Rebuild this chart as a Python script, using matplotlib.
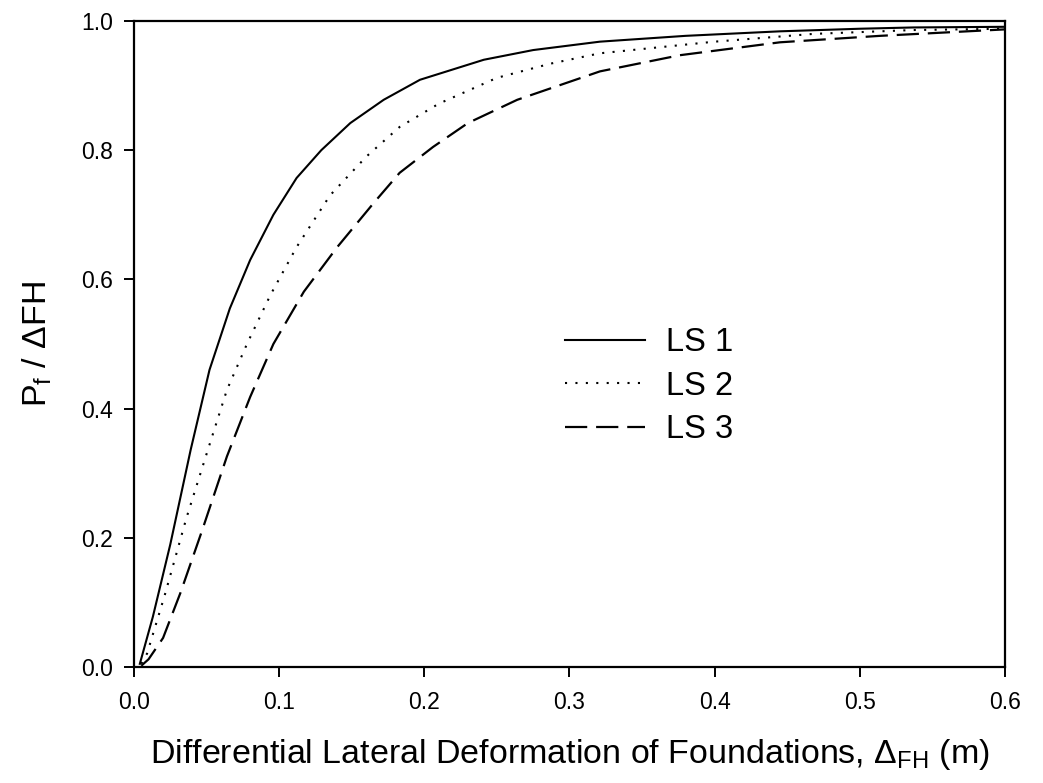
import matplotlib
matplotlib.use('Agg')
import matplotlib.pyplot as plt

plt.rcParams.update({
    'font.family': ['Liberation Sans', 'DejaVu Sans'],
    'mathtext.fontset': 'custom',
    'mathtext.rm': 'Liberation Sans',
    'mathtext.it': 'Liberation Sans:italic',
})

# values
ls1_x = [0.004, 0.013, 0.025, 0.039, 0.052, 0.066, 0.080, 0.096, 0.112, 0.129, 0.149,
         0.172, 0.197, 0.241, 0.275, 0.321, 0.380, 0.445, 0.500, 0.537, 0.600]
ls1_y = [0.005, 0.078, 0.190, 0.336, 0.460, 0.555, 0.630, 0.700, 0.757, 0.800, 0.842,
         0.878, 0.909, 0.940, 0.955, 0.968, 0.977, 0.984, 0.988, 0.990, 0.991]

ls2_x = [0.005, 0.009, 0.021, 0.036, 0.050, 0.064, 0.078, 0.094, 0.112, 0.135,
         0.160, 0.183, 0.210, 0.250, 0.287, 0.321, 0.400, 0.468, 0.537, 0.600]
ls2_y = [0.005, 0.021, 0.110, 0.230, 0.330, 0.429, 0.501, 0.576, 0.650, 0.730,
         0.790, 0.836, 0.872, 0.912, 0.934, 0.950, 0.968, 0.980, 0.986, 0.988]

ls3_x = [0.005, 0.010, 0.020, 0.032, 0.047, 0.064, 0.080, 0.096, 0.117, 0.140,
         0.165, 0.183, 0.206, 0.230, 0.264, 0.321, 0.376, 0.445, 0.514, 0.600]
ls3_y = [0.002, 0.012, 0.045, 0.115, 0.212, 0.326, 0.418, 0.500, 0.581, 0.650,
         0.718, 0.765, 0.805, 0.842, 0.878, 0.922, 0.947, 0.967, 0.977, 0.987]

labels = ['LS 1', 'LS 2', 'LS 3']
xticks = [0.0, 0.1, 0.2, 0.3, 0.4, 0.5, 0.6]
yticks = [0.0, 0.2, 0.4, 0.6, 0.8, 1.0]

fig = plt.figure(figsize=(10.43, 7.83), dpi=100)
ax = fig.add_axes([0.1285, 0.1481, 0.835, 0.8251])

ax.plot(ls1_x, ls1_y, color='black', lw=1.5, ls='-', label=labels[0])
ax.plot(ls2_x, ls2_y, color='black', lw=1.5, ls=(0, (1, 4)), label=labels[1])
ax.plot(ls3_x, ls3_y, color='black', lw=1.6, ls=(0, (10, 4)), label=labels[2])

ax.set_xlim(0, 0.6)
ax.set_ylim(0, 1.0)
ax.set_xticks(xticks)
ax.set_yticks(yticks)
ax.set_xticklabels([f'{v:.1f}' for v in xticks])
ax.set_yticklabels([f'{v:.1f}' for v in yticks])
ax.tick_params(direction='out', length=7, width=1.4, labelsize=16.5)
ax.tick_params(axis='x', pad=10)
ax.tick_params(axis='y', pad=8)
for s in ax.spines.values():
    s.set_linewidth(1.6)

ax.set_xlabel(r'Differential Lateral Deformation of Foundations, $\Delta_{\mathrm{FH}}$ (m)',
              fontsize=24.5, labelpad=17)
ax.set_ylabel(r'P$_{\mathrm{f}}$ / $\Delta$FH', fontsize=24.5, labelpad=20)

ax.legend(frameon=False, fontsize=23.5, handlelength=2.45, handletextpad=0.65,
          labelspacing=0.38, borderpad=0, borderaxespad=0,
          loc='upper left', bbox_to_anchor=(0.5417, 0.582),
          bbox_transform=fig.transFigure)

fig.savefig('out.png', dpi=100)
